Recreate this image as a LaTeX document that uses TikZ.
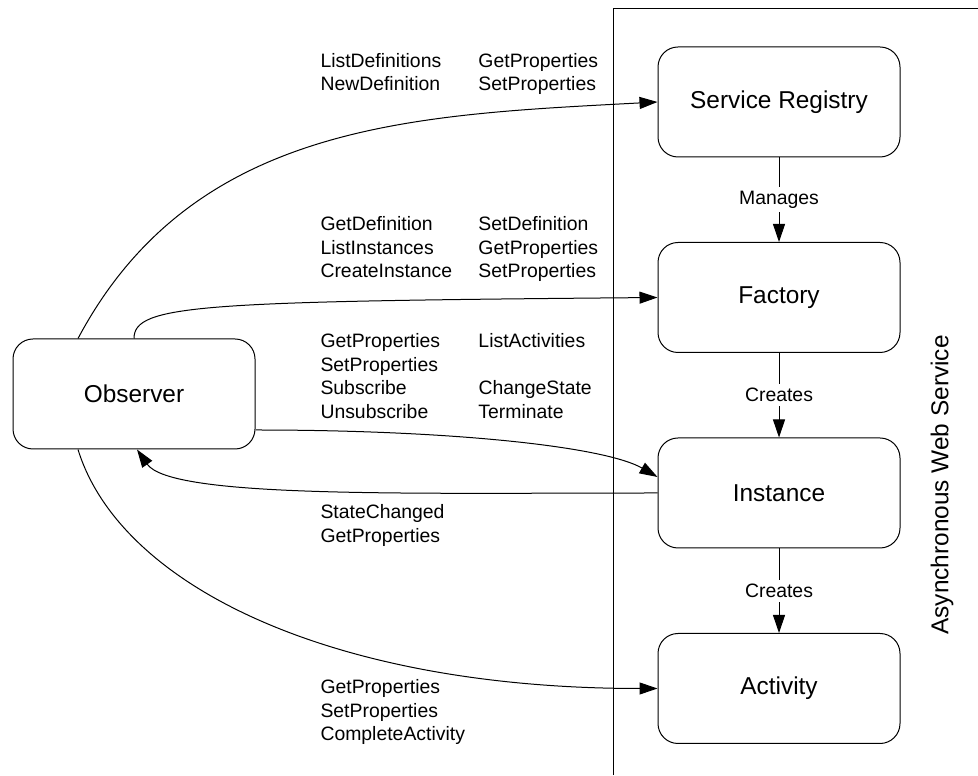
\documentclass[tikz,border=0pt]{standalone}
\usepackage{fontspec}
\setmainfont{Liberation Sans}
\usetikzlibrary{arrows.meta}
\usetikzlibrary{positioning}
\tikzstyle{comp_box} = [
    rectangle,
    rounded corners=10pt,
    draw=black,
    align=center,
    minimum width=121pt,
    minimum height=55pt,
    font=\fontsize{12.2}{14}\selectfont
]
\tikzstyle{call_list} = [
    anchor=base west,
    inner sep=0pt,
    font=\fontsize{9.7}{11.75}\selectfont
]
\tikzstyle{rel_label} = [
    fill=white,
    inner sep=2pt, % leaves a small gap in the line
    font=\fontsize{9.7}{11.75}\selectfont
]
\tikzstyle{call} = [
    -{Triangle[length=9pt, width=6pt]}
]

\begin{document}
\begin{tikzpicture}[
    x=0.5pt, y=0.5pt,
    line width=0.5pt,
    node distance=42.25pt
]
\useasboundingbox (0,0) rectangle (978,775);

% service boundary
\draw (613,0) |- (978,766);
\node [rotate=90, font=\fontsize{12.2}{14}\selectfont] (aws) at (942,290) {Asynchronous Web Service};

% components
\node [comp_box] (registry) at (779,673) {Service Registry};
\node [comp_box, below=of registry] (factory) {Factory};
\node [comp_box, below=of factory] (instance) {Instance};
\node [comp_box, below=of instance] (activity) {Activity};
\node [comp_box] (observer) at (134,381) {Observer};

\draw [call] (registry) -- node [rel_label] {Manages} (factory);
\draw [call] (factory) -- node [rel_label] {Creates} (instance);
\draw [call] (instance) -- node [rel_label] {Creates} (activity);

% calls from the observer
\draw [call] ([xshift=-28pt]observer.north) .. controls +(115,216) and +(-245,-13) .. (registry.west);
\draw [call] (observer.north) .. controls +(0,34) and +(-457,-4) .. (factory.west);
\draw [call] ([yshift=-18pt]observer.east) .. controls +(200,0) and +(150:60) .. ([yshift=8pt]instance.west);
\draw [call] (instance.west) .. controls +(-250,0) and +(34,-49) .. ([xshift=1.5pt]observer.south);
\draw [call] ([xshift=-28pt]observer.south) .. controls +(42,-136) and +(-327,0) .. (activity.west);

\node [call_list] (registry_calls) at (320,707.5) {\begin{tabular}[t]{@{}p{79pt}@{}l@{}}
    ListDefinitions & GetProperties\\
    NewDefinition & SetProperties
\end{tabular}};
\node [call_list] (factory_calls) at (320,544) {\begin{tabular}[t]{@{}p{79pt}@{}l@{}}
    GetDefinition & SetDefinition\\
    ListInstances & GetProperties\\
    CreateInstance & SetProperties
\end{tabular}};
\node [call_list] (instance_calls) at (320,427) {\begin{tabular}[t]{@{}p{79pt}@{}l@{}}
    GetProperties & ListActivities\\
    SetProperties & \\
    Subscribe & ChangeState\\
    Unsubscribe & Terminate
\end{tabular}};
\node [call_list] (event_calls) at (320,256) {\begin{tabular}[t]{@{}l@{}}
    StateChanged\\
    GetProperties
\end{tabular}};
\node [call_list] (activity_calls) at (320,81) {\begin{tabular}[t]{@{}l@{}}
    GetProperties\\
    SetProperties\\
    CompleteActivity
\end{tabular}};
\end{tikzpicture}
\end{document}
